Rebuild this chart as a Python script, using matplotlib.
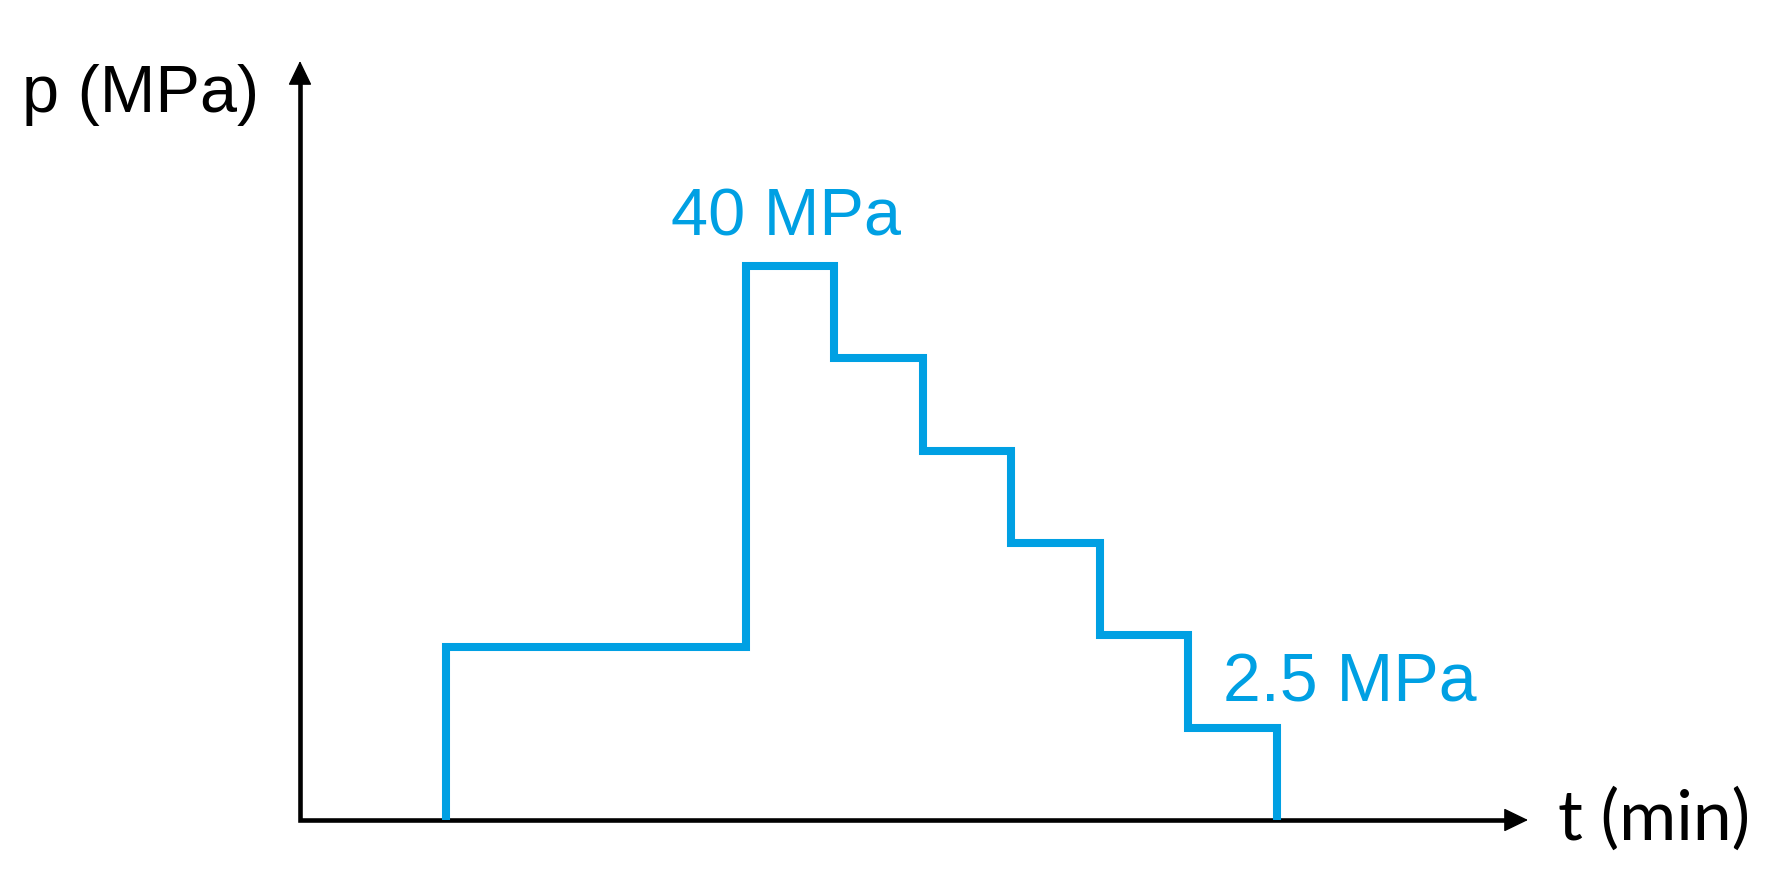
import matplotlib.pyplot as plt

# Pressure schedule (schematic units: time steps, pressure levels)
times = [1.61, 1.61, 5, 6, 7, 8, 9, 10, 11]
pressures = [0, 1.87, 6, 5, 4, 3, 2, 1, 0]
peak_label = "40 MPa"
low_label = "2.5 MPa"
x_label = "t (min)"
y_label = "p (MPa)"

BLUE = "#00A0E3"
W, H = 1771, 878

fig = plt.figure(figsize=(W / 100, H / 100), dpi=100)
# axes box: origin at (300, 821) px, arrow tips at x=1528 and y=62
ax = fig.add_axes([300 / W, (H - 821) / H, (1528 - 300) / W, (821 - 62) / H])
ax.set_xlim(-0.04, 13.84)
ax.set_ylim(0, 8.22)
ax.axis("off")

# axes drawn as an L with arrow heads
ax.plot([0, 0, 0.985], [0.97, 0, 0], transform=ax.transAxes, color="black",
        lw=3.3, clip_on=False, solid_joinstyle="miter", solid_capstyle="projecting")
head = dict(arrowstyle="-|>,head_length=1.55,head_width=0.75", mutation_scale=10,
            color="black", lw=1, shrinkA=0, shrinkB=0)
ax.annotate("", xy=(0, 1), xytext=(0, 0.9), xycoords="axes fraction", arrowprops=head)
ax.annotate("", xy=(1, 0), xytext=(0.95, 0), xycoords="axes fraction", arrowprops=head)

ax.plot(times, pressures, drawstyle="steps-post", color=BLUE, lw=5.8,
        solid_joinstyle="miter", solid_capstyle="butt", clip_on=False)

def px(x, y):
    return x / W, 1 - y / H

fig.text(*px(22, 112), y_label, fontsize=48, family="Liberation Sans",
         ha="left", va="baseline")
fig.text(*px(1558, 840), x_label, fontsize=50, family="Lato",
         ha="left", va="baseline")
fig.text(*px(671, 235), peak_label, fontsize=48, family="Liberation Sans",
         color=BLUE, ha="left", va="baseline")
fig.text(*px(1223, 702), low_label, fontsize=49, family="Liberation Sans",
         color=BLUE, ha="left", va="baseline")

fig.savefig("out.png", dpi=100, facecolor="white")
